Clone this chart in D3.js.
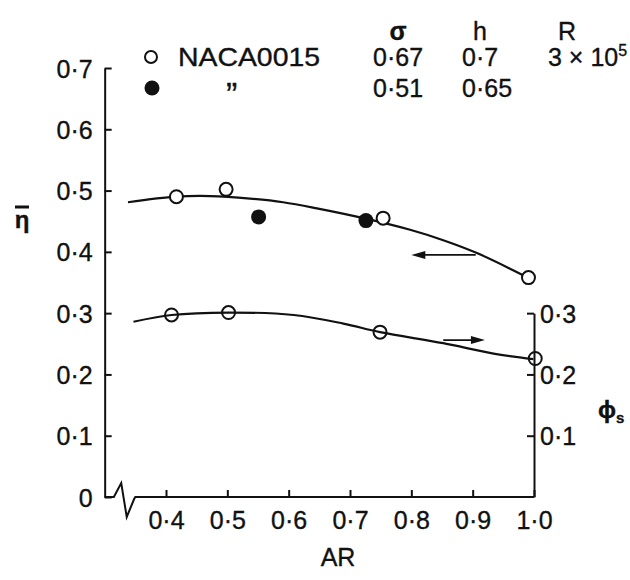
<!DOCTYPE html>
<html>
<head>
<meta charset="utf-8">
<script src="https://cdn.jsdelivr.net/npm/d3@7"></script>
<style>
  html, body { margin: 0; padding: 0; background: #fff; }
  svg { display: block; }
  text { font-family: "Liberation Sans", Arial, sans-serif; fill: #111; stroke: #111; stroke-width: 0.35px; }
</style>
</head>
<body>
<svg id="chart" width="630" height="580"></svg>
<script>
// ---------- data ----------
const xTicks = [0.4, 0.5, 0.6, 0.7, 0.8, 0.9, 1.0];
const leftTicks = [0, 0.1, 0.2, 0.3, 0.4, 0.5, 0.6, 0.7];
const rightTicks = [0.1, 0.2, 0.3];

// efficiency (eta-bar), left axis
const etaOpenAR  = [0.417, 0.498, 0.754, 0.991];
const etaOpenVal = [0.490, 0.502, 0.455, 0.358];
const etaFillAR  = [0.551, 0.726];
const etaFillVal = [0.457, 0.451];
const etaCurveAR  = [0.338, 0.417, 0.472, 0.537, 0.591, 0.646, 0.722, 0.798, 0.852, 0.907, 0.988];
const etaCurveVal = [0.481, 0.490, 0.491, 0.487, 0.481, 0.471, 0.455, 0.436, 0.419, 0.398, 0.359];

// phi_s, right axis
const phiOpenAR  = [0.409, 0.502, 0.749, 1.002];
const phiOpenVal = [0.297, 0.301, 0.269, 0.226];
const phiCurveAR  = [0.347, 0.409, 0.502, 0.608, 0.689, 0.749, 0.852, 0.934, 0.999];
const phiCurveVal = [0.286, 0.297, 0.301, 0.297, 0.283, 0.269, 0.251, 0.234, 0.225];

// arrows: [fromAR, toAR, value]
const etaArrow = [0.905, 0.800, 0.395];
const phiArrow = [0.852, 0.920, 0.256];

// legend
const legendHeader = ["σ", "h", "R"];
const legendRow1 = ["NACA0015", "0·67", "0·7", "3 × 10"];
const legendRow2 = ["\u201D", "0·51", "0·65"];

// ---------- scales ----------
const svg = d3.select("#chart");
const x = d3.scaleLinear().domain([0.4, 1.0]).range([166, 534]);
const yL = d3.scaleLinear().domain([0, 0.7]).range([497, 68]);
const yR = d3.scaleLinear().domain([0, 0.3]).range([yL(0), yL(0.3)]);

const fmt = v => v === 0 ? "0" : d3.format(".1f")(v).replace(".", "·");
const FS = 25;

// ---------- axes ----------
const leftAxisX = x(0.3);
const gL = svg.append("g").attr("transform", `translate(${leftAxisX},0)`)
  .call(d3.axisLeft(yL).tickValues(leftTicks).tickSizeInner(-7).tickSizeOuter(0).tickPadding(12).tickFormat(fmt));
gL.selectAll("text").style("font-size", FS + "px").attr("dy", "0.36em");

const gR = svg.append("g").attr("transform", `translate(${x(1.0)},0)`)
  .call(d3.axisRight(yR).tickValues(rightTicks).tickSizeInner(-7).tickSizeOuter(0).tickPadding(6).tickFormat(fmt));
gR.selectAll("text").style("font-size", FS + "px").attr("dy", "0.36em");

const gB = svg.append("g").attr("transform", `translate(0,${yL(0)})`)
  .call(d3.axisBottom(x).tickValues(xTicks).tickSizeInner(-7).tickSizeOuter(0).tickPadding(14).tickFormat(fmt));
gB.select(".domain").remove();
gB.selectAll("text").style("font-size", FS + "px");

svg.selectAll(".domain, .tick line").attr("stroke", "#111").attr("stroke-width", 2);
svg.selectAll(".tick text").attr("fill", "#111");

// bottom frame with axis break
const y0 = yL(0);
svg.append("path")
  .attr("d", `M${x(0.3)},${y0} L${x(0.315)},${y0} L${x(0.327)},${y0 - 14} L${x(0.336)},${y0 + 20} L${x(0.348)},${y0 + 2} L${x(0.35)},${y0} L${x(1.0)},${y0}`)
  .attr("fill", "none").attr("stroke", "#111").attr("stroke-width", 2).attr("stroke-linejoin", "miter");

// ---------- curves ----------
const line = ys => d3.line().x(d => x(d[0])).y(d => ys(d[1])).curve(d3.curveCatmullRom.alpha(0.5));
svg.append("path").datum(d3.zip(etaCurveAR, etaCurveVal))
  .attr("d", line(yL)).attr("fill", "none").attr("stroke", "#111").attr("stroke-width", 2.2);
svg.append("path").datum(d3.zip(phiCurveAR, phiCurveVal))
  .attr("d", line(yR)).attr("fill", "none").attr("stroke", "#111").attr("stroke-width", 2.2);

// ---------- arrows ----------
function arrow(a, ys) {
  const x1 = x(a[0]), x2 = x(a[1]), yy = ys(a[2]);
  const dir = Math.sign(x2 - x1);
  svg.append("line").attr("x1", x1).attr("x2", x2 - dir * 6).attr("y1", yy).attr("y2", yy)
    .attr("stroke", "#111").attr("stroke-width", 1.8);
  svg.append("path")
    .attr("d", `M${x2},${yy} L${x2 - dir * 14},${yy - 4} L${x2 - dir * 14},${yy + 4} Z`)
    .attr("fill", "#111");
}
arrow(etaArrow, yL);
arrow(phiArrow, yR);

// ---------- points ----------
svg.append("g").selectAll("circle").data(d3.zip(etaFillAR, etaFillVal)).join("circle")
  .attr("cx", d => x(d[0])).attr("cy", d => yL(d[1])).attr("r", 7.5).attr("fill", "#111");
svg.append("g").selectAll("circle").data(d3.zip(etaOpenAR, etaOpenVal)).join("circle")
  .attr("cx", d => x(d[0])).attr("cy", d => yL(d[1])).attr("r", 6.5)
  .attr("fill", "#fff").attr("stroke", "#111").attr("stroke-width", 2);
svg.append("g").selectAll("circle").data(d3.zip(phiOpenAR, phiOpenVal)).join("circle")
  .attr("cx", d => x(d[0])).attr("cy", d => yR(d[1])).attr("r", 6.5)
  .attr("fill", "none").attr("stroke", "#111").attr("stroke-width", 2);

// ---------- axis titles ----------
svg.append("text").attr("x", 338).attr("y", 566).attr("text-anchor", "middle")
  .style("font-size", FS + "px").text("AR");
// eta with overbar (upright)
svg.append("text").attr("x", 22).attr("y", 228).attr("text-anchor", "middle")
  .style("font-size", "24px").style("font-weight", "bold").text("η");
svg.append("line").attr("x1", 15).attr("x2", 29).attr("y1", 207).attr("y2", 207)
  .attr("stroke", "#111").attr("stroke-width", 3);
const phiT = svg.append("text").attr("x", 598).attr("y", 418).style("font-size", "24px").style("font-weight", "bold");
phiT.append("tspan").text("ϕ");
phiT.append("tspan").attr("dy", 5).style("font-size", "15px").text("s");

// ---------- legend ----------
const hx = [398, 480, 567];
svg.append("g").selectAll("text").data(legendHeader).join("text")
  .attr("x", (d, i) => hx[i]).attr("y", 40).attr("text-anchor", "middle")
  .style("font-size", FS + "px").style("font-weight", (d, i) => i === 0 ? "bold" : "normal").text(d => d);

svg.append("circle").attr("cx", 151).attr("cy", 57).attr("r", 6)
  .attr("fill", "#fff").attr("stroke", "#111").attr("stroke-width", 2);
svg.append("circle").attr("cx", 152).attr("cy", 88).attr("r", 7.5).attr("fill", "#111");

const r1x = [178, 373, 462, 548];
const r1 = svg.append("g");
legendRow1.forEach((t, i) => {
  const tx = r1.append("text").attr("x", r1x[i]).attr("y", 66).style("font-size", FS + "px").text(t);
  if (i === 0) tx.attr("textLength", 142).attr("lengthAdjust", "spacingAndGlyphs");
  if (i === 3) tx.append("tspan").attr("dy", -10).style("font-size", "16px").text("5");
});
const r2x = [226, 373, 462];
svg.append("g").selectAll("text").data(legendRow2).join("text")
  .attr("x", (d, i) => r2x[i]).attr("y", (d, i) => i === 0 ? 106 : 97)
  .style("font-size", (d, i) => i === 0 ? "34px" : FS + "px").text(d => d);
</script>
</body>
</html>
